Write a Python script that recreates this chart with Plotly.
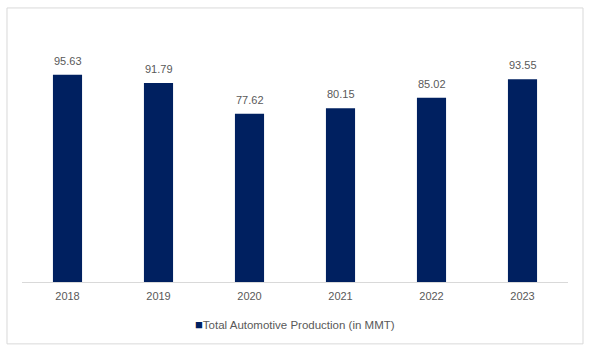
import plotly.graph_objects as go

years = ["2018", "2019", "2020", "2021", "2022", "2023"]
production = [95.63, 91.79, 77.62, 80.15, 85.02, 93.55]
series_name = "Total Automotive Production (in MMT)"

bar_color = "#002060"
text_color = "#595959"
grid_color = "#d9d9d9"
font_family = "Liberation Sans, Arial, sans-serif"

fig = go.Figure()
fig.add_trace(go.Bar(
    x=years, y=production, name=series_name,
    marker=dict(color=bar_color, line=dict(width=0)),
    width=0.32, showlegend=False,
))

for i, v in enumerate(production):
    fig.add_annotation(
        x=i, y=v, text=f"{v:.2f}", showarrow=False,
        yanchor="bottom", yshift=6,
        font=dict(family=font_family, size=11, color=text_color),
    )

# legend (square marker + series name)
fig.add_annotation(
    xref="paper", yref="paper", x=0.5, y=-0.165, xanchor="center", yanchor="middle",
    showarrow=False,
    text=f"<span style='color:{bar_color};font-size:13px'>■</span>{series_name}",
    font=dict(family=font_family, size=11.5, color=text_color),
)

fig.add_shape(
    type="rect", xref="paper", yref="paper",
    x0=-0.0275, x1=1.0275, y0=-0.238, y1=1.054,
    line=dict(color=grid_color, width=1), fillcolor="rgba(0,0,0,0)",
    layer="below",
)

fig.update_layout(
    width=592, height=351,
    margin=dict(l=22, r=24, t=22, b=69),
    paper_bgcolor="white", plot_bgcolor="white",
    font=dict(family=font_family, size=11, color=text_color),
    showlegend=False,
    xaxis=dict(
        type="category", range=[-0.5, 5.5],
        showline=True, linecolor=grid_color, linewidth=1,
        ticks="", showgrid=False, ticklabelstandoff=4,
        tickfont=dict(family=font_family, size=11, color=text_color),
    ),
    yaxis=dict(
        range=[0, 120], visible=False, showgrid=False, zeroline=False,
    ),
)

fig.write_html("out.html")
